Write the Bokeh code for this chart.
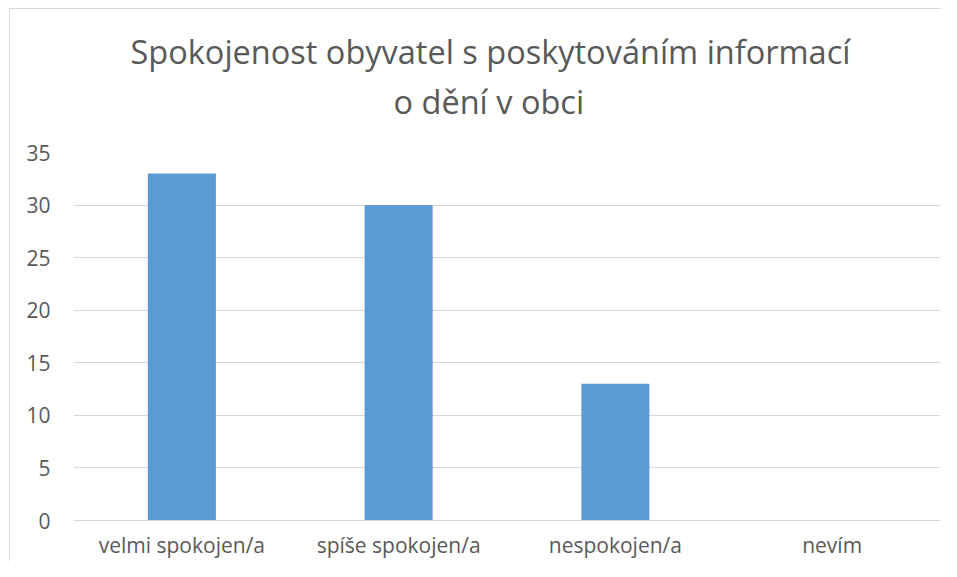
from bokeh.plotting import figure
from bokeh.models import Title, FactorRange, Range1d, FixedTicker, ColumnDataSource
from bokeh.embed import file_html
from bokeh.resources import INLINE

categories = ["velmi spokojen/a", "spíše spokojen/a", "nespokojen/a", "nevím"]
values = [33, 30, 13, 0]
title_lines = ["Spokojenost obyvatel s poskytováním informací", "o dění v obci"]
y_ticks = [0, 5, 10, 15, 20, 25, 30, 35]

FONT = "Open Sans"
TXT = "#595959"
GRID = "#d9d9d9"

src = ColumnDataSource(dict(cat=categories, val=values))

p = figure(width=941, height=561, output_backend="svg", toolbar_location=None,
           x_range=FactorRange(*categories, range_padding=0),
           y_range=Range1d(0, 35),
           min_border_left=73, min_border_right=1, min_border_top=152, min_border_bottom=40)
p.outline_line_color = None
p.background_fill_color = "white"
p.border_fill_color = None
p.styles = {
    "background-color": "white",
    "background-image": "linear-gradient(#d9d9d9, #d9d9d9), linear-gradient(#d9d9d9, #d9d9d9)",
    "background-size": "1px 100%, 100% 1px",
    "background-position": "9px 8px, 9px 8px",
    "background-repeat": "no-repeat",
}

p.vbar(x="cat", top="val", width=0.314, source=src, color="#5b9bd5", line_color=None)

p.xgrid.grid_line_color = None
p.ygrid.grid_line_color = GRID
p.ygrid.grid_line_width = 1
p.yaxis.ticker = FixedTicker(ticks=y_ticks)

for ax in (p.xaxis[0], p.yaxis[0]):
    ax.major_tick_line_color = None
    ax.minor_tick_line_color = None
    ax.major_tick_out = 0
    ax.major_tick_in = 0
    ax.minor_tick_out = 0
    ax.axis_label_standoff = 0
    ax.major_label_text_font = FONT
    ax.major_label_text_color = TXT
    ax.major_label_text_font_size = "21px"
p.yaxis.axis_line_color = None
p.xaxis.axis_line_color = GRID
p.xaxis.major_label_standoff = 10
p.yaxis.major_label_standoff = 23

# spacer between frame and title block
p.add_layout(Title(text=" ", text_font_size="20px", standoff=4), "above")
for txt, so, off in zip(reversed(title_lines), [1, 6], [320, 57]):
    p.add_layout(Title(text=txt, align="left", offset=off, standoff=so,
                       text_font=FONT, text_font_size="32.5px", text_color=TXT,
                       text_font_style="normal"), "above")

open("out.html", "w").write(file_html(p, INLINE))
